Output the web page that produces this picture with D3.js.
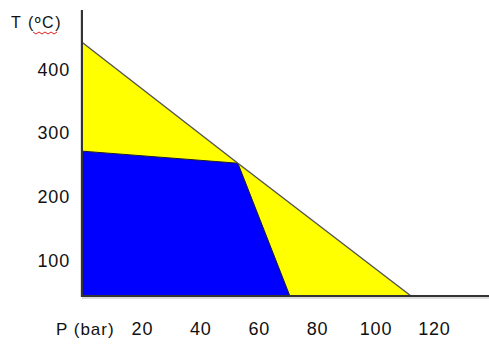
<!DOCTYPE html>
<html>
<head>
<meta charset="utf-8">
<script src="https://cdn.jsdelivr.net/npm/d3@7"></script>
<style>
  body { margin: 0; background: #fff; }
  text { font-family: "Liberation Sans", Arial, sans-serif; fill: #111; }
</style>
</head>
<body>
<div id="vis"></div>
<script>
const FRAME_WIDTH = 489;
const FRAME_HEIGHT = 344;

// data (P in bar, T in ºC)
const xTicks = [20, 40, 60, 80, 100, 120];
const yTicks = [100, 200, 300, 400];
const boundaryP = [0, 52.7, 112];
const boundaryT = [442, 252, 44];
const blueP = [0, 52.7, 70.5, 0];
const blueT = [271, 252, 44, 44];

const AXIS_X = 82;
const AXIS_Y = 296;

const svg = d3.select('#vis')
  .append('svg')
    .attr('width', FRAME_WIDTH)
    .attr('height', FRAME_HEIGHT);

// scales
const X_SCALE = d3.scaleLinear().domain([0, 120]).range([84, 434.4]);
const Y_SCALE = d3.scaleLinear().domain([100, 400]).range([260, 69]);

const T_MIN = Y_SCALE.invert(AXIS_Y);

// yellow region: under the boundary line
const yellowPts = boundaryP.map((p, i) => [p, boundaryT[i]]).concat([[0, T_MIN]]);
const bluePts = blueP.map((p, i) => [p, blueT[i]]);

const toPath = (pts) => 'M' + pts.map(d => {
  const x = d[0] === 0 ? AXIS_X : X_SCALE(d[0]);
  const y = d[1] <= 44 ? AXIS_Y : Y_SCALE(d[1]);
  return x + ',' + y;
}).join('L') + 'Z';

svg.append('path')
  .attr('d', toPath(yellowPts))
  .attr('fill', '#ffff00');

svg.append('path')
  .attr('d', toPath(bluePts))
  .attr('fill', '#0000ff')
  .attr('stroke', '#1a1a33')
  .attr('stroke-width', 1);

// boundary line
const line = d3.line()
  .x((d, i) => i === 0 ? AXIS_X : X_SCALE(d))
  .y((d, i) => i === boundaryP.length - 1 ? AXIS_Y : Y_SCALE(boundaryT[i]));

svg.append('path')
  .attr('d', line(boundaryP))
  .attr('fill', 'none')
  .attr('stroke', '#555')
  .attr('stroke-width', 1.4);

// axes (with a soft shadow like the original)
svg.append('line')
  .attr('x1', AXIS_X - 1).attr('x2', AXIS_X - 1)
  .attr('y1', 10).attr('y2', AXIS_Y + 1)
  .attr('stroke', '#bbb').attr('stroke-width', 1);
svg.append('line')
  .attr('x1', AXIS_X).attr('x2', FRAME_WIDTH)
  .attr('y1', AXIS_Y + 2).attr('y2', AXIS_Y + 2)
  .attr('stroke', '#bbb').attr('stroke-width', 1);
svg.append('line')
  .attr('x1', AXIS_X).attr('x2', AXIS_X)
  .attr('y1', 10).attr('y2', AXIS_Y)
  .attr('stroke', '#333').attr('stroke-width', 2);
svg.append('line')
  .attr('x1', AXIS_X - 1).attr('x2', FRAME_WIDTH)
  .attr('y1', AXIS_Y).attr('y2', AXIS_Y)
  .attr('stroke', '#333').attr('stroke-width', 2);

// tick labels
svg.selectAll('.ylab')
  .data(yTicks)
  .enter()
  .append('text')
    .attr('x', 70)
    .attr('y', d => Y_SCALE(d) + 6.5)
    .attr('text-anchor', 'end')
    .attr('font-size', '18px')
    .attr('letter-spacing', '0.8px')
    .text(d => d);

svg.selectAll('.xlab')
  .data(xTicks)
  .enter()
  .append('text')
    .attr('x', d => X_SCALE(d))
    .attr('y', 335)
    .attr('text-anchor', 'middle')
    .attr('font-size', '18px')
    .attr('letter-spacing', '0.8px')
    .text(d => d);

svg.append('text')
  .attr('x', 56)
  .attr('y', 335)
  .attr('font-size', '17px')
  .attr('letter-spacing', '1px')
  .text('P (bar)');

svg.append('text')
  .attr('x', 11)
  .attr('y', 28)
  .attr('font-size', '16px')
  .attr('letter-spacing', '1.5px')
  .text('T (ºC)');

// spell-check squiggle under ºC
svg.append('path')
  .attr('d', d3.range(0, 9).map((k, i) => (i === 0 ? 'M' : 'L') + (33 + k * 3) + ',' + (32 + (k % 2 ? 2 : 0))).join(''))
  .attr('fill', 'none')
  .attr('stroke', '#e02020')
  .attr('stroke-width', 1);
</script>
</body>
</html>
